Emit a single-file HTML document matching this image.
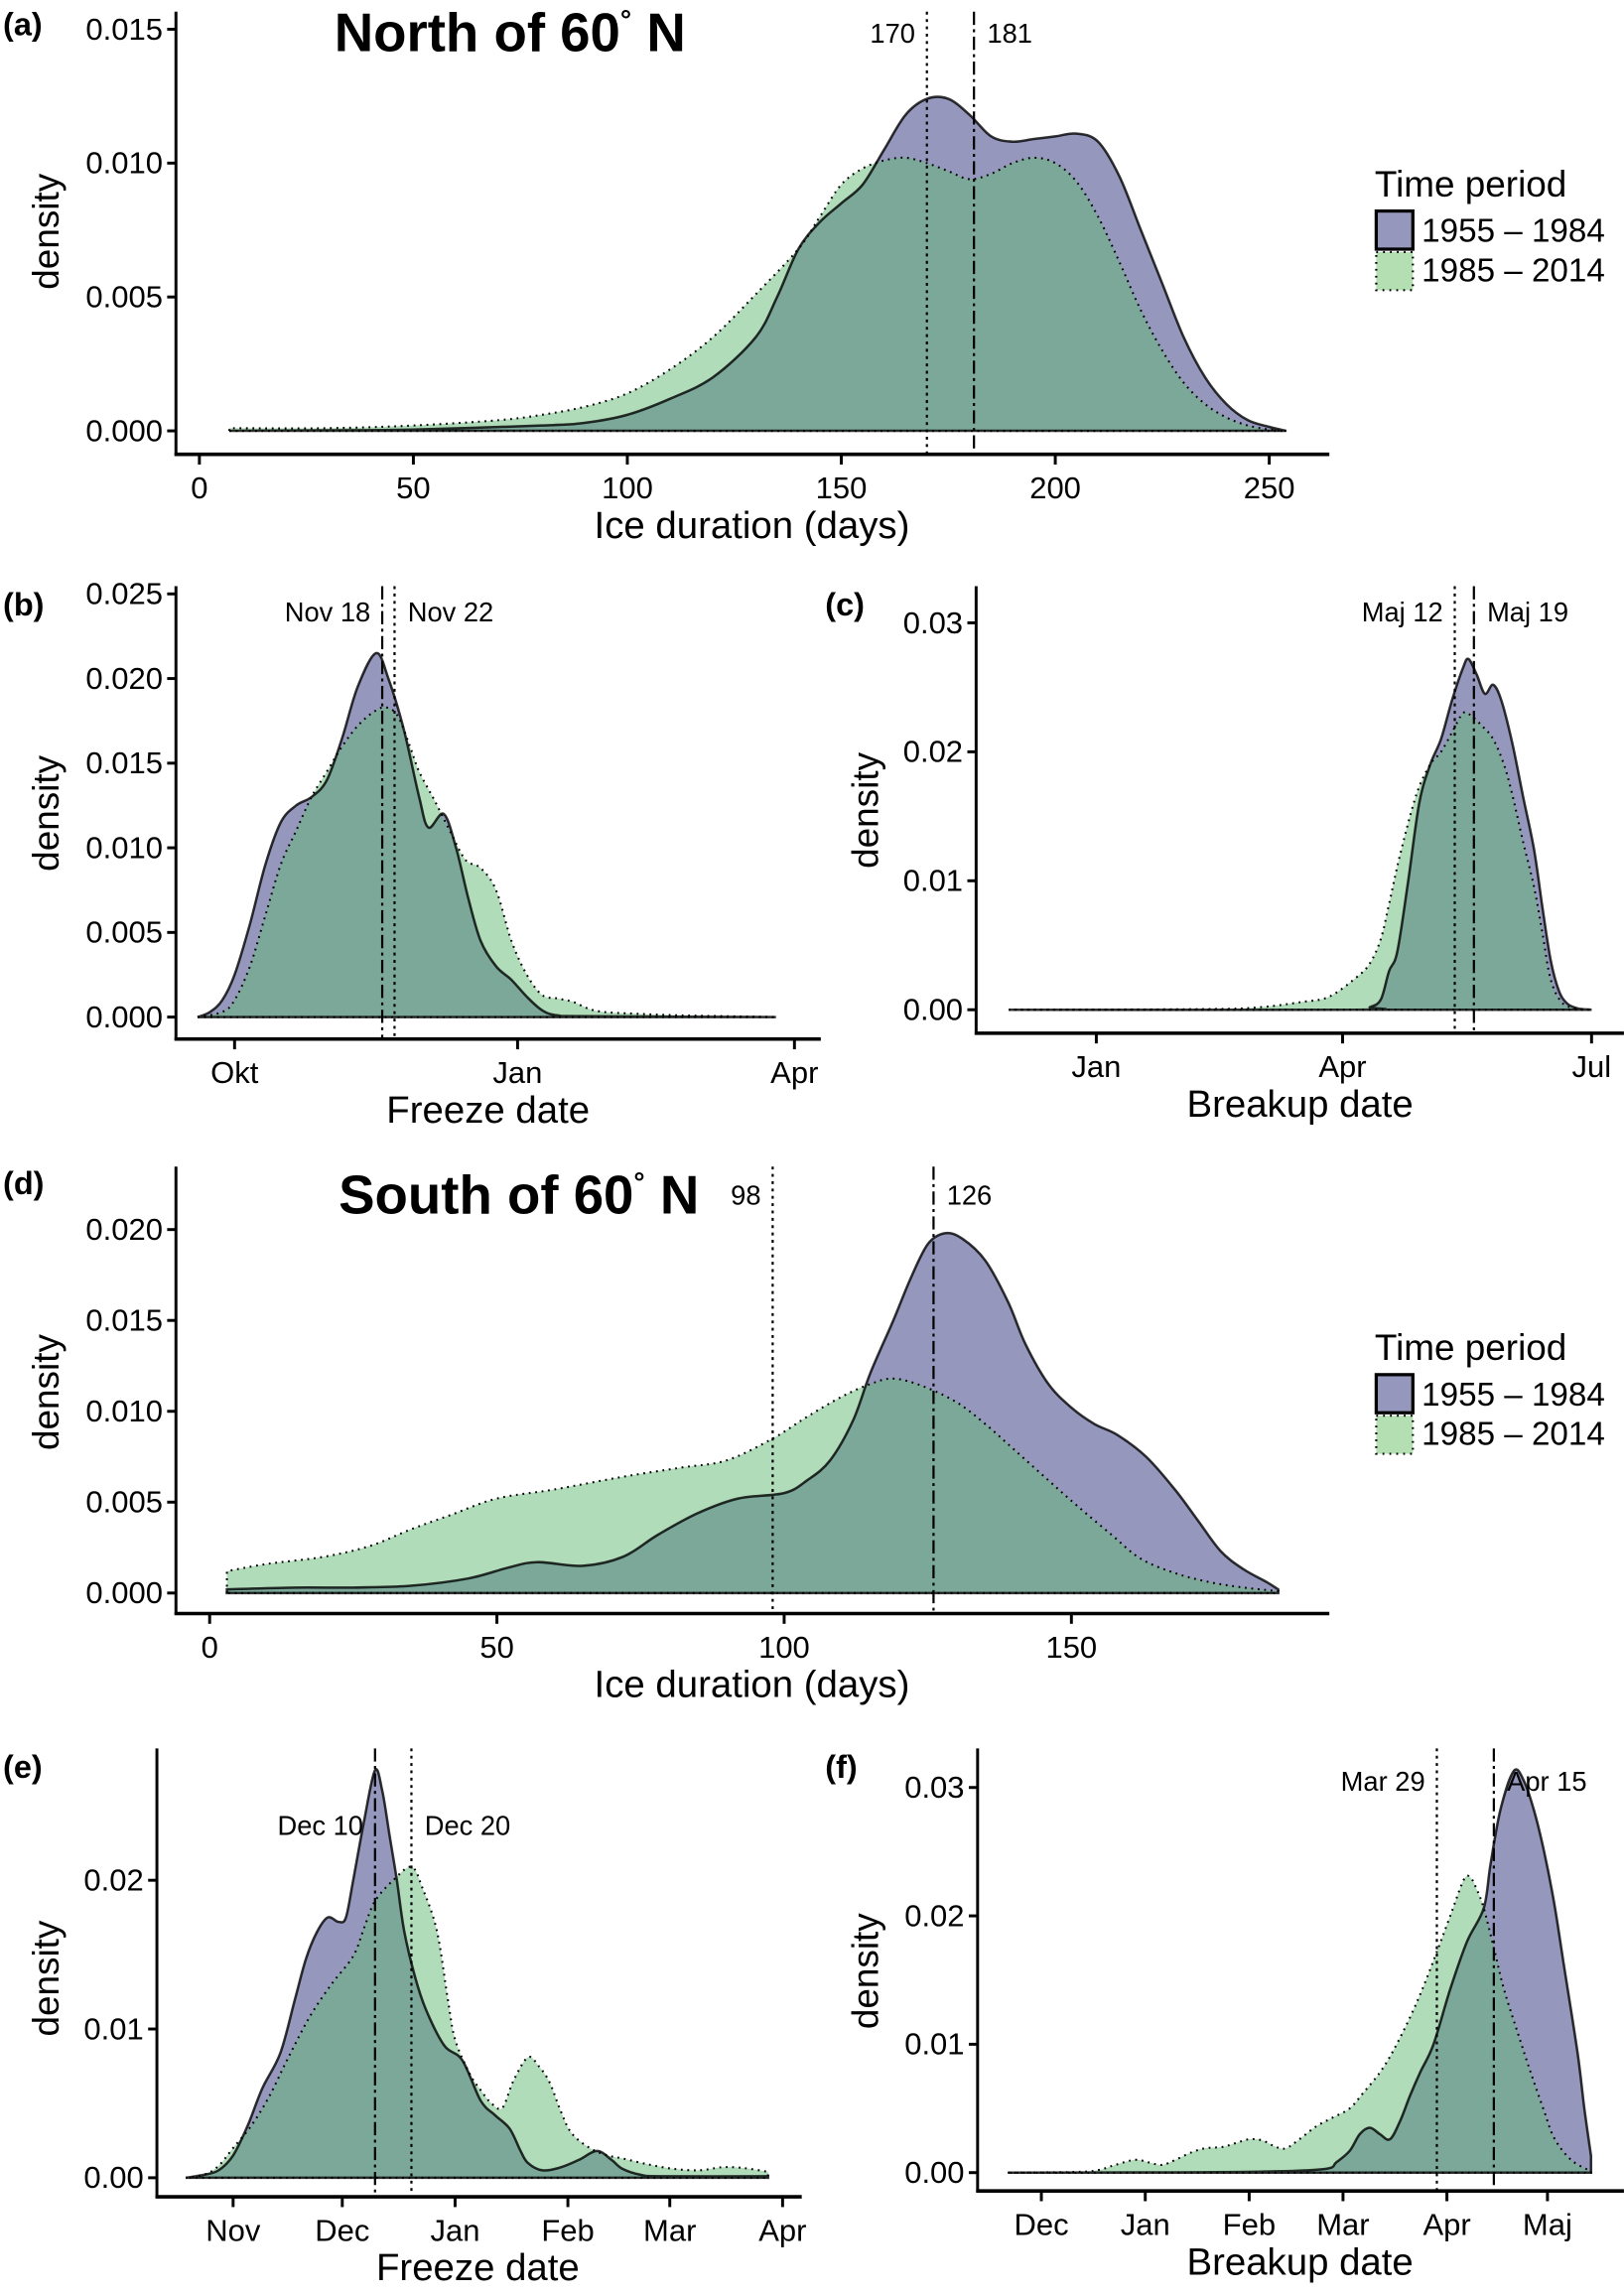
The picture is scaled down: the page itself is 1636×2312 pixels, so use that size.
<!DOCTYPE html>
<html><head><meta charset="utf-8">
<style>
html,body{margin:0;padding:0;background:#fff;}
svg{display:block;}
text{font-family:"Liberation Sans",Arial,sans-serif;fill:#000;}
</style></head>
<body>
<svg id="fig" xmlns="http://www.w3.org/2000/svg" width="1636" height="2312" viewBox="0 0 1108 1566"></svg>
<script>
// ---------- DATA ----------
const aOldX = [7,30,50,80,90,100,110,120,130,135,140,145,150,155,160,165,170,175,180,185,190,195,200,205,210,215,220,225,230,235,240,245,250,254];
const aOldY = [0,0.00002,0.00005,0.0002,0.0003,0.0006,0.0012,0.002,0.0035,0.005,0.0068,0.0078,0.0085,0.0092,0.0105,0.0118,0.0124,0.0124,0.0118,0.011,0.0108,0.0109,0.011,0.0111,0.0108,0.0095,0.0075,0.0055,0.0035,0.002,0.001,0.0004,0.00015,0];
const aNewX = [7,30,50,70,80,90,100,110,120,130,140,145,150,155,160,165,170,175,180,185,190,195,200,205,210,215,220,225,230,235,240,245,250,254];
const aNewY = [0.0001,0.0001,0.0002,0.0004,0.0006,0.0009,0.0014,0.0023,0.0035,0.0051,0.0068,0.008,0.0092,0.0098,0.0101,0.0102,0.01,0.0097,0.0094,0.0096,0.01,0.0102,0.01,0.0093,0.008,0.0063,0.0045,0.003,0.0018,0.001,0.0005,0.0002,0.00005,0];
const aMeans = [170,181];
const bOldX = [-12,-8,-4,0,5,10,15,20,25,30,35,40,46,50,55,60,63,68,72,76,80,85,90,95,100,105,115,176];
const bOldY = [0,0.0003,0.001,0.0025,0.0055,0.009,0.0115,0.0125,0.013,0.014,0.0165,0.0195,0.0215,0.02,0.017,0.013,0.0112,0.012,0.01,0.007,0.0045,0.003,0.0022,0.0012,0.0004,0.0001,0.00005,0];
const bNewX = [-12,-4,0,5,10,15,20,25,30,35,40,45,49,53,57,60,65,70,75,80,85,90,95,100,105,110,115,120,130,145,176];
const bNewY = [0,0.0003,0.001,0.003,0.006,0.009,0.011,0.013,0.0145,0.016,0.0172,0.018,0.0183,0.0178,0.016,0.0145,0.0128,0.011,0.0093,0.0088,0.0075,0.0045,0.0025,0.0013,0.0011,0.0009,0.0005,0.0003,0.0002,0.0001,0];
const bMeans = [48,52];
const cOldX = [-32,95,100,104,107,110,114,118,122,126,130,134,136,139,142,145,148,152,156,160,163,166,169,172,176,181];
const cOldY = [0,0,0.0002,0.0008,0.003,0.0045,0.01,0.016,0.019,0.021,0.024,0.0265,0.0272,0.026,0.0245,0.0252,0.024,0.0207,0.0165,0.0124,0.008,0.0039,0.0015,0.0005,0.0001,0];
const cNewX = [-32,40,60,75,85,95,100,104,107,111,117,122,126,130,134,137,141,145,149,152,156,160,163,166,170,175,181];
const cNewY = [0,0.00005,0.0002,0.0006,0.001,0.0025,0.0036,0.0055,0.0082,0.012,0.0167,0.019,0.02,0.0215,0.023,0.0228,0.022,0.021,0.019,0.0167,0.013,0.0095,0.006,0.0024,0.0006,0.0001,0];
const cMeans = [131,138];
const dOldX = [3,15,25,35,45,52,57,65,72,78,85,92,100,104,108,112,115,119,122,125,128,131,135,139,142,146,150,154,158,163,168,172,176,180,184,186];
const dOldY = [0.0002,0.0003,0.0003,0.0004,0.0008,0.0014,0.0017,0.0015,0.002,0.0032,0.0044,0.0052,0.0055,0.0062,0.0073,0.0095,0.0121,0.015,0.0173,0.0192,0.0198,0.0195,0.0183,0.016,0.0137,0.0115,0.0102,0.0093,0.0087,0.0075,0.0057,0.004,0.0023,0.0013,0.0006,0.0002];
const dNewX = [3,10,20,28,35,42,50,60,72,82,90,98,104,110,115,119,124,130,135,140,146,151,157,162,168,174,180,186];
const dNewY = [0.0012,0.0016,0.002,0.0026,0.0035,0.0043,0.0052,0.0057,0.0064,0.0069,0.0073,0.0085,0.0097,0.0108,0.0115,0.0118,0.0114,0.0105,0.0093,0.0079,0.0062,0.0048,0.0032,0.0019,0.0011,0.0006,0.0003,0.0001];
const dMeans = [98,126];
const eOldX = [-13,-8,-4,0,4,8,13,17,20,23,26,29,31,33,36,39,41,43,45,47,50,53,58,63,68,72,76,79,81,85,90,95,100,104,107,112,118,147];
const eOldY = [0,0.0002,0.0005,0.0015,0.0035,0.006,0.0084,0.012,0.0147,0.0165,0.0175,0.0172,0.0175,0.02,0.024,0.0274,0.026,0.023,0.02,0.0166,0.0135,0.0113,0.0089,0.0079,0.0052,0.0042,0.0033,0.0018,0.001,0.0005,0.0007,0.0012,0.0018,0.0012,0.0006,0.0002,0.0001,0.0001];
const eNewX = [-13,-8,-4,0,5,10,15,21,27,33,36,39,44,49,52,56,59,61,65,68,71,74,77,81,84,87,90,93,98,103,107,114,121,128,134,138,142,147];
const eNewY = [0,0.0002,0.0008,0.002,0.0035,0.0055,0.008,0.0108,0.013,0.0149,0.0168,0.0186,0.02,0.0209,0.0195,0.0166,0.012,0.0093,0.007,0.0059,0.005,0.0047,0.0065,0.0081,0.0075,0.0064,0.0045,0.003,0.002,0.0015,0.0013,0.0009,0.0006,0.0005,0.0007,0.0007,0.0006,0.0004];
const eMeans = [39,49];
const fOldX = [-10,40,70,85,88,92,95,98,101,104,107,110,113,117,122,127,132,134,137,141,144,147,150,153,156,160,162,164];
const fOldY = [0,0.00002,0.0001,0.0003,0.0008,0.0017,0.003,0.0035,0.003,0.0026,0.004,0.006,0.0078,0.01,0.0143,0.018,0.0206,0.024,0.0283,0.0313,0.0305,0.0282,0.025,0.021,0.016,0.0093,0.005,0.0013];
const fNewX = [-10,10,17,22,28,32,36,40,45,49,54,58,62,66,70,73,77,82,87,92,96,101,105,110,114,118,122,126,128,130,132,135,138,142,146,150,153,158,164];
const fNewY = [0,0.00005,0.0002,0.0006,0.001,0.0008,0.0006,0.001,0.0016,0.0019,0.002,0.0023,0.0026,0.0025,0.002,0.0019,0.0026,0.0036,0.0043,0.005,0.0062,0.0078,0.0095,0.0121,0.0145,0.0172,0.02,0.0228,0.023,0.022,0.0206,0.0175,0.0143,0.011,0.0078,0.0048,0.0027,0.001,0.0001];
const fMeans = [118,135];

const aXTicks=[0,50,100,150,200,250], aXLabels=["0","50","100","150","200","250"];
const aYTicks=[0,0.005,0.01,0.015], aYLabels=["0.000","0.005","0.010","0.015"];
const bXTicks=[0,92,182], bXLabels=["Okt","Jan","Apr"];
const bYTicks=[0,0.005,0.01,0.015,0.02,0.025], bYLabels=["0.000","0.005","0.010","0.015","0.020","0.025"];
const cXTicks=[0,90,181], cXLabels=["Jan","Apr","Jul"];
const cYTicks=[0,0.01,0.02,0.03], cYLabels=["0.00","0.01","0.02","0.03"];
const dXTicks=[0,50,100,150], dXLabels=["0","50","100","150"];
const dYTicks=[0,0.005,0.01,0.015,0.02], dYLabels=["0.000","0.005","0.010","0.015","0.020"];
const eXTicks=[0,30,61,92,120,151], eXLabels=["Nov","Dec","Jan","Feb","Mar","Apr"];
const eYTicks=[0,0.01,0.02], eYLabels=["0.00","0.01","0.02"];
const fXTicks=[0,31,62,90,121,151], fXLabels=["Dec","Jan","Feb","Mar","Apr","Maj"];
const fYTicks=[0,0.01,0.02,0.03], fYLabels=["0.00","0.01","0.02","0.03"];

// ---------- DRAWING ----------
const NS="http://www.w3.org/2000/svg";
const svg=document.getElementById('fig');
function mk(tag,attrs,parent){const e=document.createElementNS(NS,tag);for(const k in attrs)e.setAttribute(k,attrs[k]);(parent||svg).appendChild(e);return e;}
function txt(s,x,y,size,anchor,parent,weight){const t=mk('text',{x:x,y:y,'font-size':size,'text-anchor':anchor||'start','font-weight':weight||'normal'},parent);t.textContent=s;return t;}
function smooth(pts){let d='';for(let i=0;i<pts.length-1;i++){const p0=pts[Math.max(0,i-1)],p1=pts[i],p2=pts[i+1],p3=pts[Math.min(pts.length-1,i+2)];
 const c1x=p1[0]+(p2[0]-p0[0])/6,c1y=p1[1]+(p2[1]-p0[1])/6,c2x=p2[0]-(p3[0]-p1[0])/6,c2y=p2[1]-(p3[1]-p1[1])/6;
 d+=` C${c1x.toFixed(2)},${c1y.toFixed(2)} ${c2x.toFixed(2)},${c2y.toFixed(2)} ${p2[0].toFixed(2)},${p2[1].toFixed(2)}`;}return d;}
function densPath(xs,ys,sx,sy){const pts=xs.map((x,i)=>[sx(x),sy(ys[i])]);
 return `M${sx(xs[0])},${sy(0)} L${pts[0][0]},${pts[0][1]}`+smooth(pts)+` L${sx(xs[xs.length-1])},${sy(0)} Z`;}

function panel(cfg){
 const g=mk('g',{});
 
 
 const sx=v=>cfg.x0+v*cfg.kx, sy=v=>cfg.y0-v*cfg.ky;
 const p1=mk('path',{d:densPath(cfg.oldX,cfg.oldY,sx,sy),fill:'#9597bd',stroke:'none'},g);
 
 
 const p2=mk('path',{d:densPath(cfg.newX,cfg.newY,sx,sy),fill:'rgb(98,185,118)','fill-opacity':0.5,stroke:'none'},g);
 
 
 const l1=mk('path',{d:densPath(cfg.oldX,cfg.oldY,sx,sy),fill:'none',stroke:'#000','stroke-width':1.7,'stroke-opacity':0.8},g);
 
 
 const l2=mk('path',{d:densPath(cfg.newX,cfg.newY,sx,sy),fill:'none',stroke:'#000','stroke-width':1.4,'stroke-dasharray':'1.2 3.2'},g);
 
 
 cfg.means.forEach((m,i)=>{
  const dash=cfg.styles[i]==='dot'?'2 3':'9 3 2 3';
  const ln=mk('line',{x1:sx(m),x2:sx(m),y1:cfg.top,y2:cfg.axisY,stroke:'#000','stroke-width':1.5,'stroke-dasharray':dash},g);
  
  
  const lt=txt(cfg.meanLabels[i],sx(m)+(i===0?-8:9),cfg.labelY,18.5,i===0?'end':'start',g);
  
  
 });
 const ya=mk('line',{x1:cfg.axisX,x2:cfg.axisX,y1:cfg.top,y2:cfg.axisY+1,stroke:'#000','stroke-width':2},g);
 
 
 const xa=mk('line',{x1:cfg.axisX-1,x2:cfg.right,y1:cfg.axisY,y2:cfg.axisY,stroke:'#000','stroke-width':2.4},g);
 
 
 cfg.yTicks.forEach((v,i)=>{
  mk('line',{x1:cfg.axisX-6,x2:cfg.axisX,y1:sy(v),y2:sy(v),stroke:'#000','stroke-width':2},g);
  const t=txt(cfg.yLabels[i],cfg.axisX-9,sy(v)+7,21,'end',g);
  
  
 });
 cfg.xTicks.forEach((v,i)=>{
  mk('line',{x1:sx(v),x2:sx(v),y1:cfg.axisY,y2:cfg.axisY+7,stroke:'#000','stroke-width':2},g);
  const t=txt(cfg.xLabels[i],sx(v),cfg.axisY+30,21,'middle',g);
  
  
 });
 const xt=txt(cfg.xTitle,cfg.xTitleX,cfg.axisY+57,26,'middle',g);
 
 
 const yt=txt('density',0,0,25,'middle',g);
 yt.setAttribute('transform',`translate(${cfg.yTitleX},${cfg.yTitleY}) rotate(-90)`);
 
 
 const pl=txt(cfg.letter,cfg.letterX,cfg.letterY,22,'start',g,'bold');
 
 
}

function legend(y){
 const g=mk('g',{});
 
 
 const t=txt('Time period',938,y,25,'start',g);
 
 
 const k1=mk('rect',{x:939,y:y+10,width:25,height:26,fill:'#9597bd',stroke:'#000','stroke-width':2.2},g);
 
 
 const k2=mk('rect',{x:939,y:y+38,width:25,height:26,fill:'#b4dfb2',stroke:'#000','stroke-width':1.5,'stroke-dasharray':'1.2 3.5'},g);
 
 
 const l1=txt('1955 – 1984',970,y+31,22.5,'start',g);
 
 
 const l2=txt('1985 – 2014',970,y+58,22.5,'start',g);
 
 
}

panel({name:'panel-a',letter:'(a)',letterX:2,letterY:24,oldX:aOldX,oldY:aOldY,newX:aNewX,newY:aNewY,means:aMeans,styles:['dot','dash'],meanLabels:['170','181'],labelY:29,
 x0:136,kx:2.92,y0:294,ky:18270,axisX:120,top:8,axisY:310,right:907,xTicks:aXTicks,xLabels:aXLabels,yTicks:aYTicks,yLabels:aYLabels,
 xTitle:'Ice duration (days)',xTitleX:513,yTitleX:40,yTitleY:158});
panel({name:'panel-b',letter:'(b)',letterX:2,letterY:420,oldX:bOldX,oldY:bOldY,newX:bNewX,newY:bNewY,means:bMeans,styles:['dash','dot'],meanLabels:['Nov 18','Nov 22'],labelY:424,
 x0:160,kx:2.099,y0:694,ky:11550,axisX:120,top:400,axisY:709,right:560,xTicks:bXTicks,xLabels:bXLabels,yTicks:bYTicks,yLabels:bYLabels,
 xTitle:'Freeze date',xTitleX:333,yTitleX:40,yTitleY:555});
panel({name:'panel-c',letter:'(c)',letterX:563,letterY:420,oldX:cOldX,oldY:cOldY,newX:cNewX,newY:cNewY,means:cMeans,styles:['dot','dash'],meanLabels:['Maj 12','Maj 19'],labelY:424,
 x0:748,kx:1.867,y0:689,ky:8800,axisX:666,top:400,axisY:705,right:1108,xTicks:cXTicks,xLabels:cXLabels,yTicks:cYTicks,yLabels:cYLabels,
 xTitle:'Breakup date',xTitleX:887,yTitleX:599,yTitleY:553});
panel({name:'panel-d',letter:'(d)',letterX:2,letterY:815,oldX:dOldX,oldY:dOldY,newX:dNewX,newY:dNewY,means:dMeans,styles:['dot','dash'],meanLabels:['98','126'],labelY:822,
 x0:143,kx:3.92,y0:1087,ky:12400,axisX:120,top:796,axisY:1101,right:907,xTicks:dXTicks,xLabels:dXLabels,yTicks:dYTicks,yLabels:dYLabels,
 xTitle:'Ice duration (days)',xTitleX:513,yTitleX:40,yTitleY:950});
panel({name:'panel-e',letter:'(e)',letterX:2,letterY:1213,oldX:eOldX,oldY:eOldY,newX:eNewX,newY:eNewY,means:eMeans,styles:['dash','dot'],meanLabels:['Dec 10','Dec 20'],labelY:1252,
 x0:159,kx:2.483,y0:1486,ky:10150,axisX:107,top:1193,axisY:1499,right:547,xTicks:eXTicks,xLabels:eXLabels,yTicks:eYTicks,yLabels:eYLabels,
 xTitle:'Freeze date',xTitleX:326,yTitleX:40,yTitleY:1350});
panel({name:'panel-f',letter:'(f)',letterX:563,letterY:1213,oldX:fOldX,oldY:fOldY,newX:fNewX,newY:fNewY,means:fMeans,styles:['dot','dash'],meanLabels:['Mar 29','Apr 15'],labelY:1222,
 x0:710.5,kx:2.287,y0:1482.5,ky:8760,axisX:667,top:1193,axisY:1495,right:1108,xTicks:fXTicks,xLabels:fXLabels,yTicks:fYTicks,yLabels:fYLabels,
 xTitle:'Breakup date',xTitleX:887,yTitleX:599,yTitleY:1345});

const t1=txt('North of 60',228,35,37,'start',null,'bold');


t1.innerHTML='North of 60<tspan dy="-15" font-size="19">°</tspan><tspan dy="15"> N</tspan>';
const t2=txt('South of 60',231,828,37,'start',null,'bold');


t2.innerHTML='South of 60<tspan dy="-15" font-size="19">°</tspan><tspan dy="15"> N</tspan>';
legend(134);
legend(928);
</script>
</body></html>
